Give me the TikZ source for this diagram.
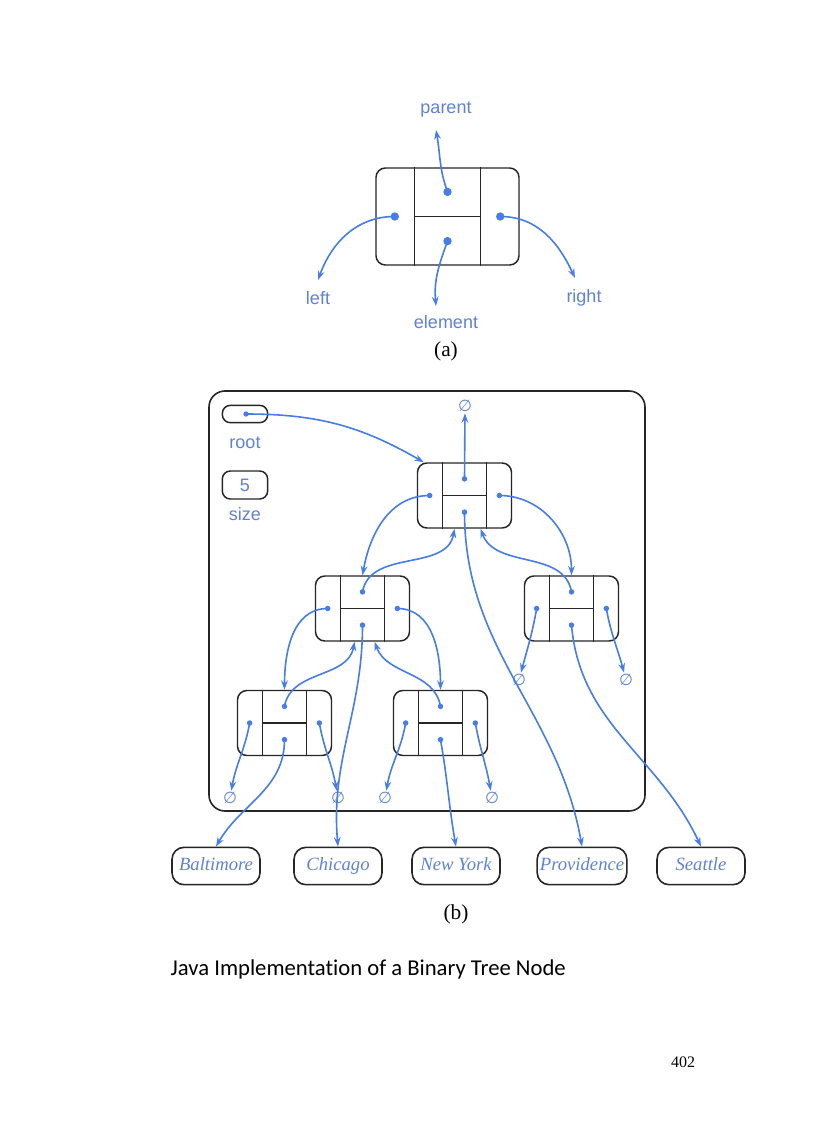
\documentclass[tikz,border=0pt]{standalone}
\usepackage{fontspec}
\usetikzlibrary{calc,arrows.meta}
\newfontfamily\labf{Liberation Sans}
\newfontfamily\capfont[Ligatures=NoCommon,Contextuals=NoAlternate]{Carlito}
\newfontfamily\serf{Liberation Serif}
\newfontfamily\dvf{DejaVu Sans}
\definecolor{ptr}{RGB}{70,125,230}
\definecolor{lbl}{RGB}{95,130,215}
\tikzset{
  x=0.75pt,y=-0.75pt,
  bnode/.style={draw=black!85,line width=1.1pt,rounded corners=7pt,rectangle,inner sep=0pt},
  div/.style={draw=black!85,line width=1pt},
  ptrline/.style={draw=ptr,line width=1.2pt,-{Stealth[length=7pt,width=5pt]}},
  lab/.style={text=lbl,font=\labf\fontsize{13.5}{14}\selectfont},
  nul/.style={text=lbl,font=\dvf\fontsize{12}{12}\selectfont,inner sep=1pt},
  city/.style={draw=black!85,line width=1.2pt,rounded corners=9pt,minimum width=66pt,minimum height=28pt,text height=10pt,text depth=3pt,text=lbl,font=\serf\itshape\fontsize{14}{14}\selectfont,inner sep=2pt},
  smallbox/.style={draw=black!85,line width=1.1pt,rounded corners=6pt,minimum width=34pt,minimum height=13pt,inner sep=0pt}
}
\newcommand\btnode[5]{%
  \node[bnode,minimum width=#4*0.75pt,minimum height=#5*0.75pt] (#1) at (#2,#3) {};
  \draw[div] ($(#1.south west)!0.27!(#1.south east)$) -- ($(#1.north west)!0.27!(#1.north east)$);
  \draw[div] ($(#1.south west)!0.73!(#1.south east)$) -- ($(#1.north west)!0.73!(#1.north east)$);
  \draw[div] ($(#1.west)!0.27!(#1.east)$) -- ($(#1.west)!0.73!(#1.east)$);
  \coordinate (#1-p) at ($(#1.center)!0.5!(#1.north)$);
  \coordinate (#1-e) at ($(#1.center)!0.5!(#1.south)$);
  \coordinate (#1-l) at ($(#1.west)!0.135!(#1.east)$);
  \coordinate (#1-r) at ($(#1.west)!0.865!(#1.east)$);
  \fill[ptr] (#1-p) circle (#4*0.022pt) (#1-e) circle (#4*0.022pt) (#1-l) circle (#4*0.022pt) (#1-r) circle (#4*0.022pt);
}
\begin{document}
\begin{tikzpicture}
\useasboundingbox (0,0) rectangle (816,1123);
\fill[white] (0,0) rectangle (816,1123);
% (a)
\btnode{A}{447.5}{216.5}{143}{97}
\node[lab] (tp) at (446,110) {parent};
\node[lab] (tl) at (318,298) {left};
\node[lab] (te) at (446,322) {element};
\node[lab] (tr) at (584,298) {right};
\node[font=\serf\fontsize{16}{16}\selectfont] (ca) at (446,351) {(a)};
\coordinate (ap) at (436,130);
\coordinate (al) at (318,280);
\coordinate (ae) at (436,306);
\coordinate (ar) at (575,278);
\draw[ptrline] (A-p) to[out=110,in=-80] (ap);
\draw[ptrline] (A-l) to[out=180,in=70] (al);
\draw[ptrline] (A-e) to[out=-110,in=95] (ae);
\draw[ptrline] (A-r) to[out=0,in=115] (ar);
% (b) frame
\node[draw=black!85,line width=1.2pt,rounded corners=12pt,minimum width=327pt,minimum height=315pt] (frame) at (427,601) {};
\node[smallbox] (rootbox) at (245,414) {};
\coordinate (rootdot) at (246,414);
\fill[ptr] (rootdot) circle (2pt);
\node[lab] (rootlab) at (245,443) {root};
\node[smallbox,minimum height=21pt,lab] (sizebox) at (245,485) {5};
\node[lab] (sizelab) at (245,514) {size};
\btnode{R}{464.5}{495.5}{94}{65}
\btnode{L}{362.5}{608.5}{94}{65}
\btnode{Q}{571.5}{608.5}{94}{65}
\btnode{LL}{284.5}{723}{94}{65}
\btnode{LR}{440.5}{723}{94}{65}
\node[nul] (n0) at (465,406) {∅};
\node[nul] (n1) at (230,798) {∅};
\node[nul] (n2) at (338,798) {∅};
\node[nul] (n3) at (385,798) {∅};
\node[nul] (n4) at (492,798) {∅};
\node[nul] (n5) at (519,680) {∅};
\node[nul] (n6) at (626,680) {∅};
\node[city] (c1) at (216,866) {Baltimore};
\node[city] (c2) at (338,866) {Chicago};
\node[city] (c3) at (456,866) {New York};
\node[city] (c4) at (582,866) {Providence};
\node[city] (c5) at (701,866) {Seattle};
\node[font=\serf\fontsize{16}{16}\selectfont] (cb) at (456,914) {(b)};
\draw[ptrline] (rootdot) to[out=0,in=150] ($(R.north west)+(7,0)$);
\draw[ptrline] (R-p) -- (n0);
\draw[ptrline] (R-l) to[out=180,in=80] (L.north);
\draw[ptrline] (R-r) to[out=0,in=90] (Q.north);
\draw[ptrline] (L-p) to[out=80,in=-100] ($(R.south)+(-10,0)$);
\draw[ptrline] (Q-p) to[out=100,in=-70] ($(R.south)+(16,0)$);
\draw[ptrline] (L-l) to[out=180,in=90] ($(LL.north)+(0,0)$);
\draw[ptrline] (L-r) to[out=0,in=90] (LR.north);
\draw[ptrline] (LL-p) to[out=80,in=-100] ($(L.south)+(-8,0)$);
\draw[ptrline] (LR-p) to[out=100,in=-70] ($(L.south)+(12,0)$);
\draw[ptrline] (LL-l) to[out=-100,in=80] (n1);
\draw[ptrline] (LL-r) to[out=-80,in=100] (n2);
\draw[ptrline] (LR-l) to[out=-100,in=80] (n3);
\draw[ptrline] (LR-r) to[out=-80,in=100] (n4);
\draw[ptrline] (Q-l) to[out=-100,in=75] (n5);
\draw[ptrline] (Q-r) to[out=-80,in=105] (n6);
\draw[ptrline] (R-e) to[out=-90,in=100] (c4.north);
\draw[ptrline] (L-e) to[out=-90,in=95] (c2.north);
\draw[ptrline] (Q-e) to[out=-85,in=115] (c5.north);
\draw[ptrline] (LL-e) to[out=-90,in=60] (c1.north);
\draw[ptrline] (LR-e) to[out=-80,in=100] (c3.north);
\node[anchor=west,font=\capfont\fontsize{17}{17}\selectfont] (caption) at (166,969) {Java Implementation of a Binary Tree Node};
\node[font=\serf\fontsize{12}{12}\selectfont] (pg) at (683,1062) {402};
\end{tikzpicture}
\end{document}
